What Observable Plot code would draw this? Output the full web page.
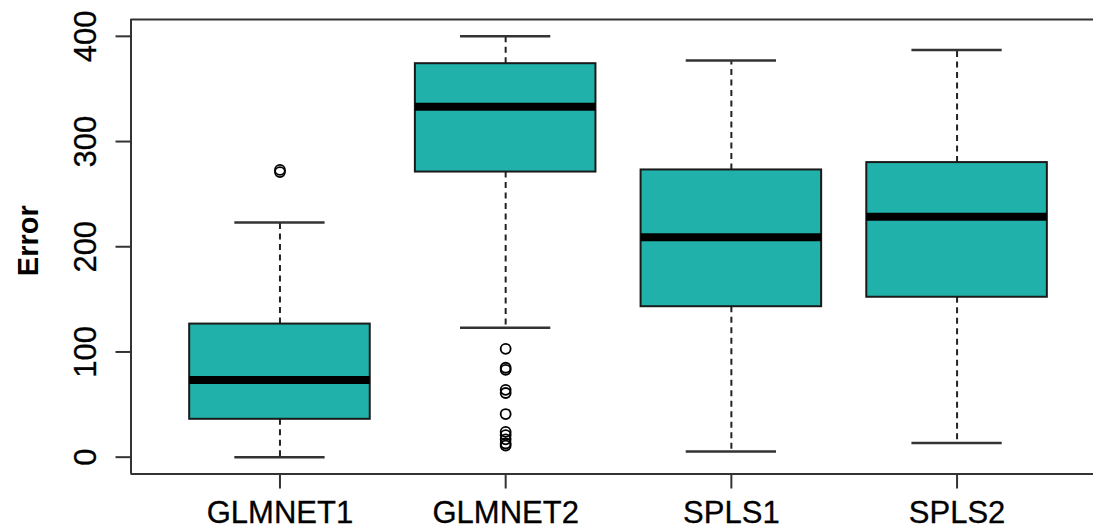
<!DOCTYPE html>
<html>
<head>
<meta charset="utf-8">
<script src="https://cdn.jsdelivr.net/npm/d3@7"></script>
<script src="https://cdn.jsdelivr.net/npm/@observablehq/plot@0.6"></script>
<style>
  html, body { margin: 0; padding: 0; background: #fff; }
  #chart svg { display: block; background: #fff; }
  #chart svg g[aria-label$="tick label"] text { stroke: #000; stroke-width: 0.3px; }
</style>
</head>
<body>
<div id="chart"></div>
<script>
// ---- data ----
const categories    = ["GLMNET1", "GLMNET2", "SPLS1", "SPLS2"];
const lowerWhisker  = [0, 123, 5.5, 13.4];
const q1            = [36, 271, 143, 152];
const median        = [73.4, 333, 209, 228.4];
const q3            = [126.5, 374, 273, 280];
const upperWhisker  = [223, 400, 377, 387];
const outlierGroup  = ["GLMNET1", "GLMNET1",
                       "GLMNET2", "GLMNET2", "GLMNET2", "GLMNET2", "GLMNET2", "GLMNET2",
                       "GLMNET2", "GLMNET2", "GLMNET2", "GLMNET2", "GLMNET2"];
const outlierValue  = [271, 273,
                       103, 85, 83, 64, 61, 41, 24, 21, 17, 13, 11];
const yTicks   = [0, 100, 200, 300, 400];
const yDomain  = [-16, 416];
const xDomain  = [0.34, 4.6045];
const yLabel   = "Error";

// ---- tables built from the arrays ----
const stats = categories.map((c, i) => ({
  name: c, pos: i + 1,
  lo: lowerWhisker[i], q1: q1[i], med: median[i], q3: q3[i], hi: upperWhisker[i]
}));
const outliers = outlierGroup.map((g, i) => ({pos: categories.indexOf(g) + 1, value: outlierValue[i]}));

const BOX_HALF = 0.4, CAP_HALF = 0.2;
const FONT = "'Liberation Sans', Arial, Helvetica, sans-serif";

const chart = Plot.plot({
  width: 1093,
  height: 529,
  marginLeft: 130.5,
  marginRight: 0,
  marginTop: 19,
  marginBottom: 55.5,
  style: {fontFamily: FONT, background: "#fff", color: "#000"},
  x: {type: "linear", domain: xDomain, axis: null},
  y: {domain: yDomain, axis: null},
  marks: [
    // whiskers (dashed)
    Plot.ruleX(stats, {x: "pos", y1: "q3", y2: "hi", stroke: "#222", strokeWidth: 2, strokeDasharray: "6,4.5"}),
    Plot.ruleX(stats, {x: "pos", y1: "q1", y2: "lo", stroke: "#222", strokeWidth: 2, strokeDasharray: "6,4.5"}),
    // caps
    Plot.ruleY(stats, {y: "hi", x1: d => d.pos - CAP_HALF, x2: d => d.pos + CAP_HALF, stroke: "#333", strokeWidth: 2.5}),
    Plot.ruleY(stats, {y: "lo", x1: d => d.pos - CAP_HALF, x2: d => d.pos + CAP_HALF, stroke: "#333", strokeWidth: 2.5}),
    // boxes
    Plot.rect(stats, {x1: d => d.pos - BOX_HALF, x2: d => d.pos + BOX_HALF, y1: "q1", y2: "q3",
      fill: "#20B2AA", stroke: "#1a1a1a", strokeWidth: 2}),
    // medians
    Plot.ruleY(stats, {y: "med", x1: d => d.pos - BOX_HALF, x2: d => d.pos + BOX_HALF,
      stroke: "#000", strokeWidth: 8, strokeLinecap: "butt"}),
    // outliers
    Plot.dot(outliers, {x: "pos", y: "value", r: 5, stroke: "#000", strokeWidth: 1.8, fill: "none"}),
    // plot frame (left, top, bottom; right edge lies outside the picture)
    Plot.ruleY(yDomain, {stroke: "#333", strokeWidth: 2}),
    Plot.ruleX([xDomain[0]], {stroke: "#333", strokeWidth: 2}),
    // axes
    Plot.axisY({ticks: yTicks, tickSize: 15, tickPadding: 20, tickRotate: -90, label: null,
      fontSize: 31, fontFamily: FONT, stroke: "#333", strokeWidth: 2, fill: "#000"}),
    Plot.axisX({ticks: [1, 2, 3, 4], tickFormat: d => categories[d - 1], tickSize: 15, tickPadding: 12,
      label: null, fontSize: 31, fontFamily: FONT, stroke: "#333", strokeWidth: 2, fill: "#000"}),
    // y label
    Plot.text([yLabel], {frameAnchor: "left", rotate: -90, dx: -102, dy: -6, text: d => d,
      fontSize: 29, fontWeight: "bold", fontFamily: FONT, fill: "#000", textAnchor: "middle", lineAnchor: "middle"})
  ]
});
document.getElementById("chart").appendChild(chart);
</script>
</body>
</html>
